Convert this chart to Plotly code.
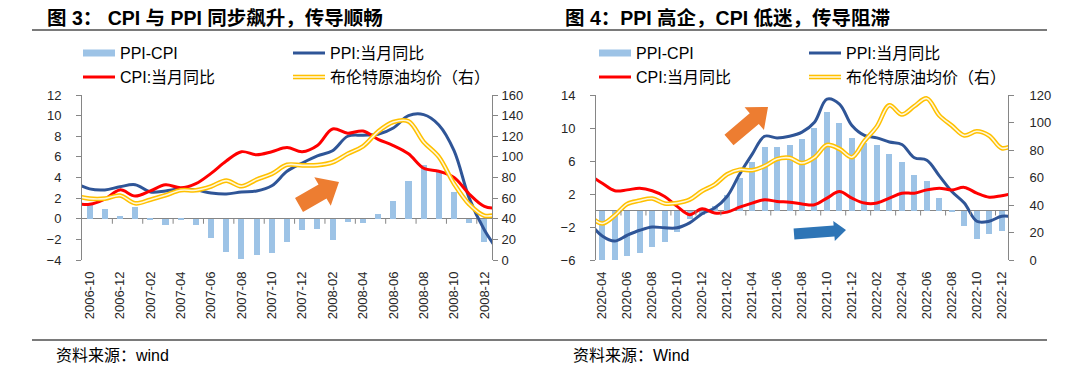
import math
import plotly.graph_objects as go

# The page body has an 8px default margin, so the figure is drawn 8px in from the
# window edge; all pixel positions below are given in window coordinates.
WIN_W, WIN_H = 1080, 373
OFF = 8
W, H = WIN_W - OFF, WIN_H - OFF

# ---------------- Left panel data (2006-10 .. 2008-12) ----------------
months_l = ['2006-10', '2006-11', '2006-12', '2007-01', '2007-02', '2007-03', '2007-04',
            '2007-05', '2007-06', '2007-07', '2007-08', '2007-09', '2007-10', '2007-11',
            '2007-12', '2008-01', '2008-02', '2008-03', '2008-04', '2008-05', '2008-06',
            '2008-07', '2008-08', '2008-09', '2008-10', '2008-11', '2008-12']
ppi_cpi_l = [1.5, 0.9, 0.3, 1.1, -0.1, -0.6, -0.1, -0.6, -1.9, -3.2, -3.9, -3.5, -3.3, -2.3,
             -1.1, -1.0, -2.1, -0.3, -0.4, 0.5, 1.7, 3.7, 5.2, 4.5, 2.6, -0.4, -2.3]
# line series run one month beyond each edge (2006-09 .. 2009-01), clipped by the axis
ppi_l = [3.5, 2.9, 2.8, 3.1, 3.3, 2.6, 2.7, 2.9, 2.8, 2.5, 2.4, 2.6, 2.7, 3.2, 4.6,
         5.4, 6.1, 6.6, 8.0, 8.1, 8.2, 8.8, 10.0, 10.1, 9.1, 6.6, 2.0, -1.1, -3.3]
cpi_l = [1.5, 1.4, 1.9, 2.8, 2.2, 2.7, 3.3, 3.0, 3.4, 4.4, 5.6, 6.5, 6.2, 6.5, 6.9,
         6.5, 7.1, 8.7, 8.3, 8.5, 7.7, 7.1, 6.3, 4.9, 4.6, 4.0, 2.4, 1.2, 1.0]
brent_l = [62.5, 59.5, 59.5, 62.5, 55.0, 58.5, 62.8, 67.6, 67.6, 71.3, 77.0, 71.5, 78.0, 83.5, 92.3,
           91.8, 92.0, 94.8, 103.0, 110.2, 124.6, 133.8, 134.5, 114.5, 100.0, 74.0, 54.0, 43.0, 44.9]

# ---------------- Right panel data (2020-04 .. 2022-12) ----------------
months_r = ['2020-04', '2020-05', '2020-06', '2020-07', '2020-08', '2020-09', '2020-10',
            '2020-11', '2020-12', '2021-01', '2021-02', '2021-03', '2021-04', '2021-05',
            '2021-06', '2021-07', '2021-08', '2021-09', '2021-10', '2021-11', '2021-12',
            '2022-01', '2022-02', '2022-03', '2022-04', '2022-05', '2022-06', '2022-07',
            '2022-08', '2022-09', '2022-10', '2022-11', '2022-12']
ppi_cpi_r = [-6.4, -6.1, -5.5, -5.1, -4.4, -3.8, -2.6, -1.0, -0.6, 0.6, 1.9, 4.0, 5.9, 7.7,
             7.7, 8.0, 8.7, 10.0, 12.0, 10.6, 8.8, 8.2, 7.9, 6.8, 5.9, 4.3, 3.6, 1.5,
             -0.2, -1.9, -3.4, -2.9, -2.5]
# line series run one month beyond each edge (2020-03 .. 2023-01)
ppi_r = [-1.5, -3.1, -3.7, -3.0, -2.4, -2.0, -2.1, -2.1, -1.5, -0.4, 0.3, 1.7, 4.4, 6.8, 9.0,
         8.8, 9.0, 9.5, 10.7, 13.5, 12.9, 10.3, 9.1, 8.8, 8.3, 8.0, 6.4, 6.1, 4.2, 2.3,
         0.9, -1.3, -1.3, -0.7, -0.8]
cpi_r = [4.3, 3.3, 2.4, 2.5, 2.7, 2.4, 1.7, 0.5, -0.5, 0.2, -0.3, -0.2, 0.4, 0.9, 1.3,
         1.1, 1.0, 0.8, 0.7, 1.5, 2.3, 1.5, 0.9, 0.9, 1.5, 2.1, 2.1, 2.5, 2.7, 2.5,
         2.8, 2.1, 1.6, 1.8, 2.1]
brent_r = [32.0, 26.6, 32.4, 40.8, 43.2, 44.7, 41.1, 41.5, 43.9, 50.2, 54.8, 62.3, 65.7, 65.3, 68.3,
           73.4, 74.3, 70.5, 74.6, 83.6, 80.8, 74.8, 86.5, 97.1, 112.5, 105.8, 111.9, 117.5, 105.1,
           97.7, 90.6, 93.6, 90.4, 81.3, 83.9]

titles = ['<b>图 3： CPI 与 PPI 同步飙升，传导顺畅</b>', '<b>图 4：PPI 高企，CPI 低迷，传导阻滞</b>']
sources = ['资料来源：wind', '资料来源：Wind']
legend_names = ['PPI-CPI', 'PPI:当月同比', 'CPI:当月同比', '布伦特原油均价（右）']

# ---------------- styling ----------------
C_BAR = '#9DC3E6'
C_PPI = '#2F5597'
C_CPI = '#FF0000'
C_OIL = '#FFC000'
C_OIL_IN = '#FFF8DC'
AX = '#868686'
TXT = '#262626'
LAT = 'Liberation Sans, Noto Sans CJK SC'


def px(x):
    return (x - OFF) / W


def py(y):
    return 1 - (y - OFF) / H


fig = go.Figure()

panels = [
    dict(months=months_l, bars=ppi_cpi_l, ppi=ppi_l, cpi=cpi_l, oil=brent_l,
         xa='x', ya='y', ya2='y2', bw=0.4),
    dict(months=months_r, bars=ppi_cpi_r, ppi=ppi_r, cpi=cpi_r, oil=brent_r,
         xa='x2', ya='y3', ya2='y4', bw=0.48),
]

for p in panels:
    n = len(p['months'])
    xb = list(range(1, n + 1))
    xl = list(range(0, n + 2))
    fig.add_bar(x=xb, y=p['bars'], marker=dict(color=C_BAR, line=dict(width=0)), width=p['bw'],
                xaxis=p['xa'], yaxis=p['ya'], showlegend=False, hoverinfo='skip')
    fig.add_scatter(x=xl, y=p['ppi'], mode='lines', line=dict(color=C_PPI, width=3, shape='spline'),
                    xaxis=p['xa'], yaxis=p['ya'], showlegend=False)
    fig.add_scatter(x=xl, y=p['cpi'], mode='lines', line=dict(color=C_CPI, width=3, shape='spline'),
                    xaxis=p['xa'], yaxis=p['ya'], showlegend=False)
    fig.add_scatter(x=xl, y=p['oil'], mode='lines', line=dict(color=C_OIL, width=4.6, shape='spline'),
                    xaxis=p['xa'], yaxis=p['ya2'], showlegend=False)
    fig.add_scatter(x=xl, y=p['oil'], mode='lines', line=dict(color=C_OIL_IN, width=1.6, shape='spline'),
                    xaxis=p['xa'], yaxis=p['ya2'], showlegend=False)

tickfont = dict(family='Liberation Sans', size=13, color=TXT)
ydom = [py(260), py(95)]


def xaxis(dom, anchor, months):
    n = len(months)
    return dict(domain=dom, anchor=anchor, range=[0.5, n + 0.5], tickmode='array',
                tickvals=list(range(1, n + 1, 2)), ticktext=months[::2], tickangle=-90,
                showline=False, showgrid=False, zeroline=False, ticks='', ticklabelstandoff=8,
                tickfont=tickfont, automargin=False, fixedrange=True)


def yleft(anchor, rng, dt, t0):
    return dict(domain=ydom, anchor=anchor, range=rng, dtick=dt, tick0=t0, showline=True,
                linecolor=AX, linewidth=1, ticks='outside', ticklen=5, tickcolor=AX,
                showgrid=False, zeroline=True, zerolinecolor=AX, zerolinewidth=1,
                ticklabelstandoff=12, tickfont=tickfont, automargin=False)


def yright(anchor, over, rng, dt, standoff):
    return dict(overlaying=over, side='right', anchor=anchor, range=rng, dtick=dt, tick0=0,
                showline=True, linecolor=AX, linewidth=1, ticks='outside', ticklen=5,
                tickcolor=AX, showgrid=False, zeroline=False, ticklabelstandoff=standoff,
                tickfont=tickfont, automargin=False)


shapes = []
annotations = []

# category boundary tick marks hanging from the zero line (every second month)
for p in panels:
    n = len(p['months'])
    for k in range(2, n, 2):
        shapes.append(dict(type='line', xref=p['xa'], yref=p['ya'], x0=k + 0.5, x1=k + 0.5,
                           ysizemode='pixel', yanchor=0, y0=0, y1=-5,
                           line=dict(color=AX, width=1)))

# titles and sources
for tx, t in zip([45, 563], titles):
    annotations.append(dict(text=t, xref='paper', yref='paper', x=px(tx), y=py(18), xanchor='left',
                            yanchor='middle', showarrow=False,
                            font=dict(family=LAT, size=19.5, color='#000000')))
for tx, s in zip([54, 571], sources):
    annotations.append(dict(text=s, xref='paper', yref='paper', x=px(tx), y=py(355), xanchor='left',
                            yanchor='middle', showarrow=False,
                            font=dict(family=LAT, size=16, color='#000000')))

# manual legends (2 x 2)
for c1, c2 in [(83, 293), (599, 809)]:
    rows = [53, 77]
    items = [(c1, rows[0], 'bar'), (c2, rows[0], 'ppi'), (c1, rows[1], 'cpi'), (c2, rows[1], 'oil')]
    for (sx, sy, kind), name in zip(items, legend_names):
        if kind == 'bar':
            shapes.append(dict(type='rect', xref='paper', yref='paper', x0=px(sx), x1=px(sx + 32),
                               y0=py(sy + 3.5), y1=py(sy - 3.5), fillcolor=C_BAR, line=dict(width=0)))
        elif kind == 'oil':
            shapes.append(dict(type='line', xref='paper', yref='paper', x0=px(sx), x1=px(sx + 32),
                               y0=py(sy), y1=py(sy), line=dict(color=C_OIL, width=4.6)))
            shapes.append(dict(type='line', xref='paper', yref='paper', x0=px(sx), x1=px(sx + 32),
                               y0=py(sy), y1=py(sy), line=dict(color=C_OIL_IN, width=1.6)))
        else:
            col = C_PPI if kind == 'ppi' else C_CPI
            shapes.append(dict(type='line', xref='paper', yref='paper', x0=px(sx), x1=px(sx + 32),
                               y0=py(sy), y1=py(sy), line=dict(color=col, width=3)))
        annotations.append(dict(text=name, xref='paper', yref='paper', x=px(sx + 35), y=py(sy),
                                xanchor='left', yanchor='middle', showarrow=False,
                                font=dict(family=LAT, size=16, color='#000000')))


# block arrows
def arrow(tail, tip, sw, hw, hl, color):
    dx, dy = tip[0] - tail[0], tip[1] - tail[1]
    L = math.hypot(dx, dy)
    ux, uy = dx / L, dy / L
    nx, ny = -uy, ux
    bx, by = tip[0] - ux * hl, tip[1] - uy * hl
    pts = [(tail[0] + nx * sw / 2, tail[1] + ny * sw / 2),
           (bx + nx * sw / 2, by + ny * sw / 2),
           (bx + nx * hw / 2, by + ny * hw / 2),
           tip,
           (bx - nx * hw / 2, by - ny * hw / 2),
           (bx - nx * sw / 2, by - ny * sw / 2),
           (tail[0] - nx * sw / 2, tail[1] - ny * sw / 2)]
    path = 'M ' + ' L '.join(f'{px(x):.5f},{py(y):.5f}' for x, y in pts) + ' Z'
    return dict(type='path', xref='paper', yref='paper', path=path, fillcolor=color,
                line=dict(width=0))


shapes.append(arrow((299, 205), (339, 182), 16, 33, 19, '#ED7D31'))
shapes.append(arrow((729, 140), (768, 107), 14, 30, 18, '#ED7D31'))
shapes.append(arrow((794, 234), (846, 230), 11, 20, 12, '#2E75B6'))

# header / footer rules (thin filled bands, drawn last)
for yy in (30, 340):
    shapes.append(dict(type='rect', xref='paper', yref='paper', x0=px(32), x1=px(1047),
                       y0=py(yy + 1), y1=py(yy - 1), fillcolor='#7A7A7A',
                       line=dict(width=0), layer='above'))

fig.update_layout(
    width=W, height=H, margin=dict(l=0, r=0, t=0, b=0),
    paper_bgcolor='white', plot_bgcolor='white', showlegend=False,
    bargap=0,
    xaxis=xaxis([px(82), px(492)], 'y', months_l),
    yaxis=yleft('x', [-4, 12], 2, 0),
    yaxis2=yright('x', 'y', [0, 160], 20, 1),
    xaxis2=xaxis([px(596), px(1008)], 'y3', months_r),
    yaxis3=yleft('x2', [-6, 14], 4, 2),
    yaxis4=yright('x2', 'y3', [0, 120], 20, 13),
    shapes=shapes, annotations=annotations,
    font=dict(family=LAT, color=TXT),
)

fig.write_html('out.html')
